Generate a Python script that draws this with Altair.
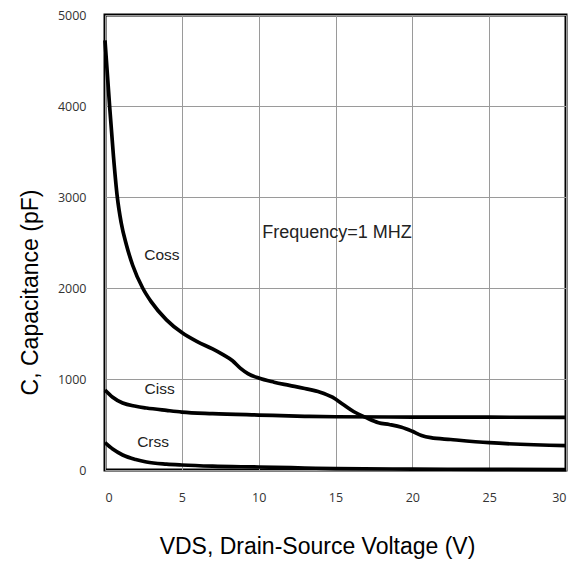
import altair as alt
import pandas as pd

coss_x = [0, 0.3, 0.55, 0.8, 1.05, 1.4, 1.8, 2.45, 3, 4, 5, 6, 7, 7.65, 8.3, 8.8, 9.3, 10, 11, 12, 13, 14, 14.8, 15.5, 16.2, 17, 17.8, 18.5, 19.3, 20, 20.6, 21.2, 22.5, 25, 30]
coss_y = [4720, 4000, 3450, 3000, 2720, 2470, 2250, 2000, 1850, 1650, 1510, 1410, 1330, 1270, 1200, 1120, 1060, 1010, 965, 930, 895, 855, 800, 720, 640, 575, 520, 500, 470, 425, 380, 355, 335, 300, 268]

ciss_x = [0, 0.5, 1.15, 2, 2.7, 4, 5, 7, 10, 13, 15, 20, 25, 30]
ciss_y = [880, 800, 736, 700, 681, 655, 637, 620, 604, 590, 585, 582, 580, 578]

crss_x = [0, 0.5, 1.15, 2, 2.7, 4, 5, 7, 10, 13, 15, 20, 25, 30]
crss_y = [300, 230, 165, 115, 88, 65, 55, 42, 33, 22, 15, 10, 7, 5]

label_text = ["Coss", "Ciss", "Crss", "Frequency=1 MHZ"]
label_x = [3.7, 3.55, 3.13, 15.1]
label_y = [2363, 890, 308, 2604]
label_size = [15.5, 15.5, 15.5, 18]

rows = []
for name, xs, ys in [("Coss", coss_x, coss_y), ("Ciss", ciss_x, ciss_y), ("Crss", crss_x, crss_y)]:
    for i, (a, b) in enumerate(zip(xs, ys)):
        rows.append({"series": name, "v": a, "c": b, "order": i})
df = pd.DataFrame(rows)
lab = pd.DataFrame({"t": label_text, "v": label_x, "c": label_y, "s": label_size})

xscale = alt.Scale(domain=[0, 30], nice=False, zero=False)
yscale = alt.Scale(domain=[0, 5000], nice=False)

lines = alt.Chart(df).mark_line(color="black", strokeWidth=3.7, interpolate="monotone").encode(
    x=alt.X("v:Q", scale=xscale,
            axis=alt.Axis(title="VDS, Drain-Source Voltage (V)", values=[0, 5, 10, 15, 20, 25, 30],
                          format="d", tickSize=0, labelPadding=21, domain=False, gridColor="#9a9a9a",
                          titleX=212, titleY=76, titleBaseline="middle", titleFontSize=23,
                          titleFontWeight="normal", titleFont="Liberation Sans")),
    y=alt.Y("c:Q", scale=yscale,
            axis=alt.Axis(title="C, Capacitance (pF)", values=[0, 1000, 2000, 3000, 4000, 5000],
                          format="d", tickSize=0, labelPadding=19, domain=False, gridColor="#9a9a9a",
                          titleX=-75, titleY=277, titleBaseline="middle", titleFontSize=23,
                          titleFontWeight="normal", titleFont="Liberation Sans")),
    detail="series:N",
    order="order:Q",
)

texts = alt.Chart(lab).mark_text(font="Liberation Sans", color="#222").encode(
    x=alt.X("v:Q", scale=xscale),
    y=alt.Y("c:Q", scale=yscale),
    text="t:N",
    size=alt.Size("s:Q", scale=None, legend=None),
)

chart = alt.layer(lines, texts).properties(
    width=461, height=455,
    autosize=alt.AutoSizeParams(type="none"),
    padding={"left": 97, "top": 7, "right": 4, "bottom": 90},
).configure_view(stroke="black", strokeWidth=3).configure_axis(
    labelFont="Open Sans", labelFontSize=12.5, labelColor="#333", gridWidth=1, titleColor="black"
)

chart.save("out.html", embed_options={"renderer": "svg", "actions": False})
